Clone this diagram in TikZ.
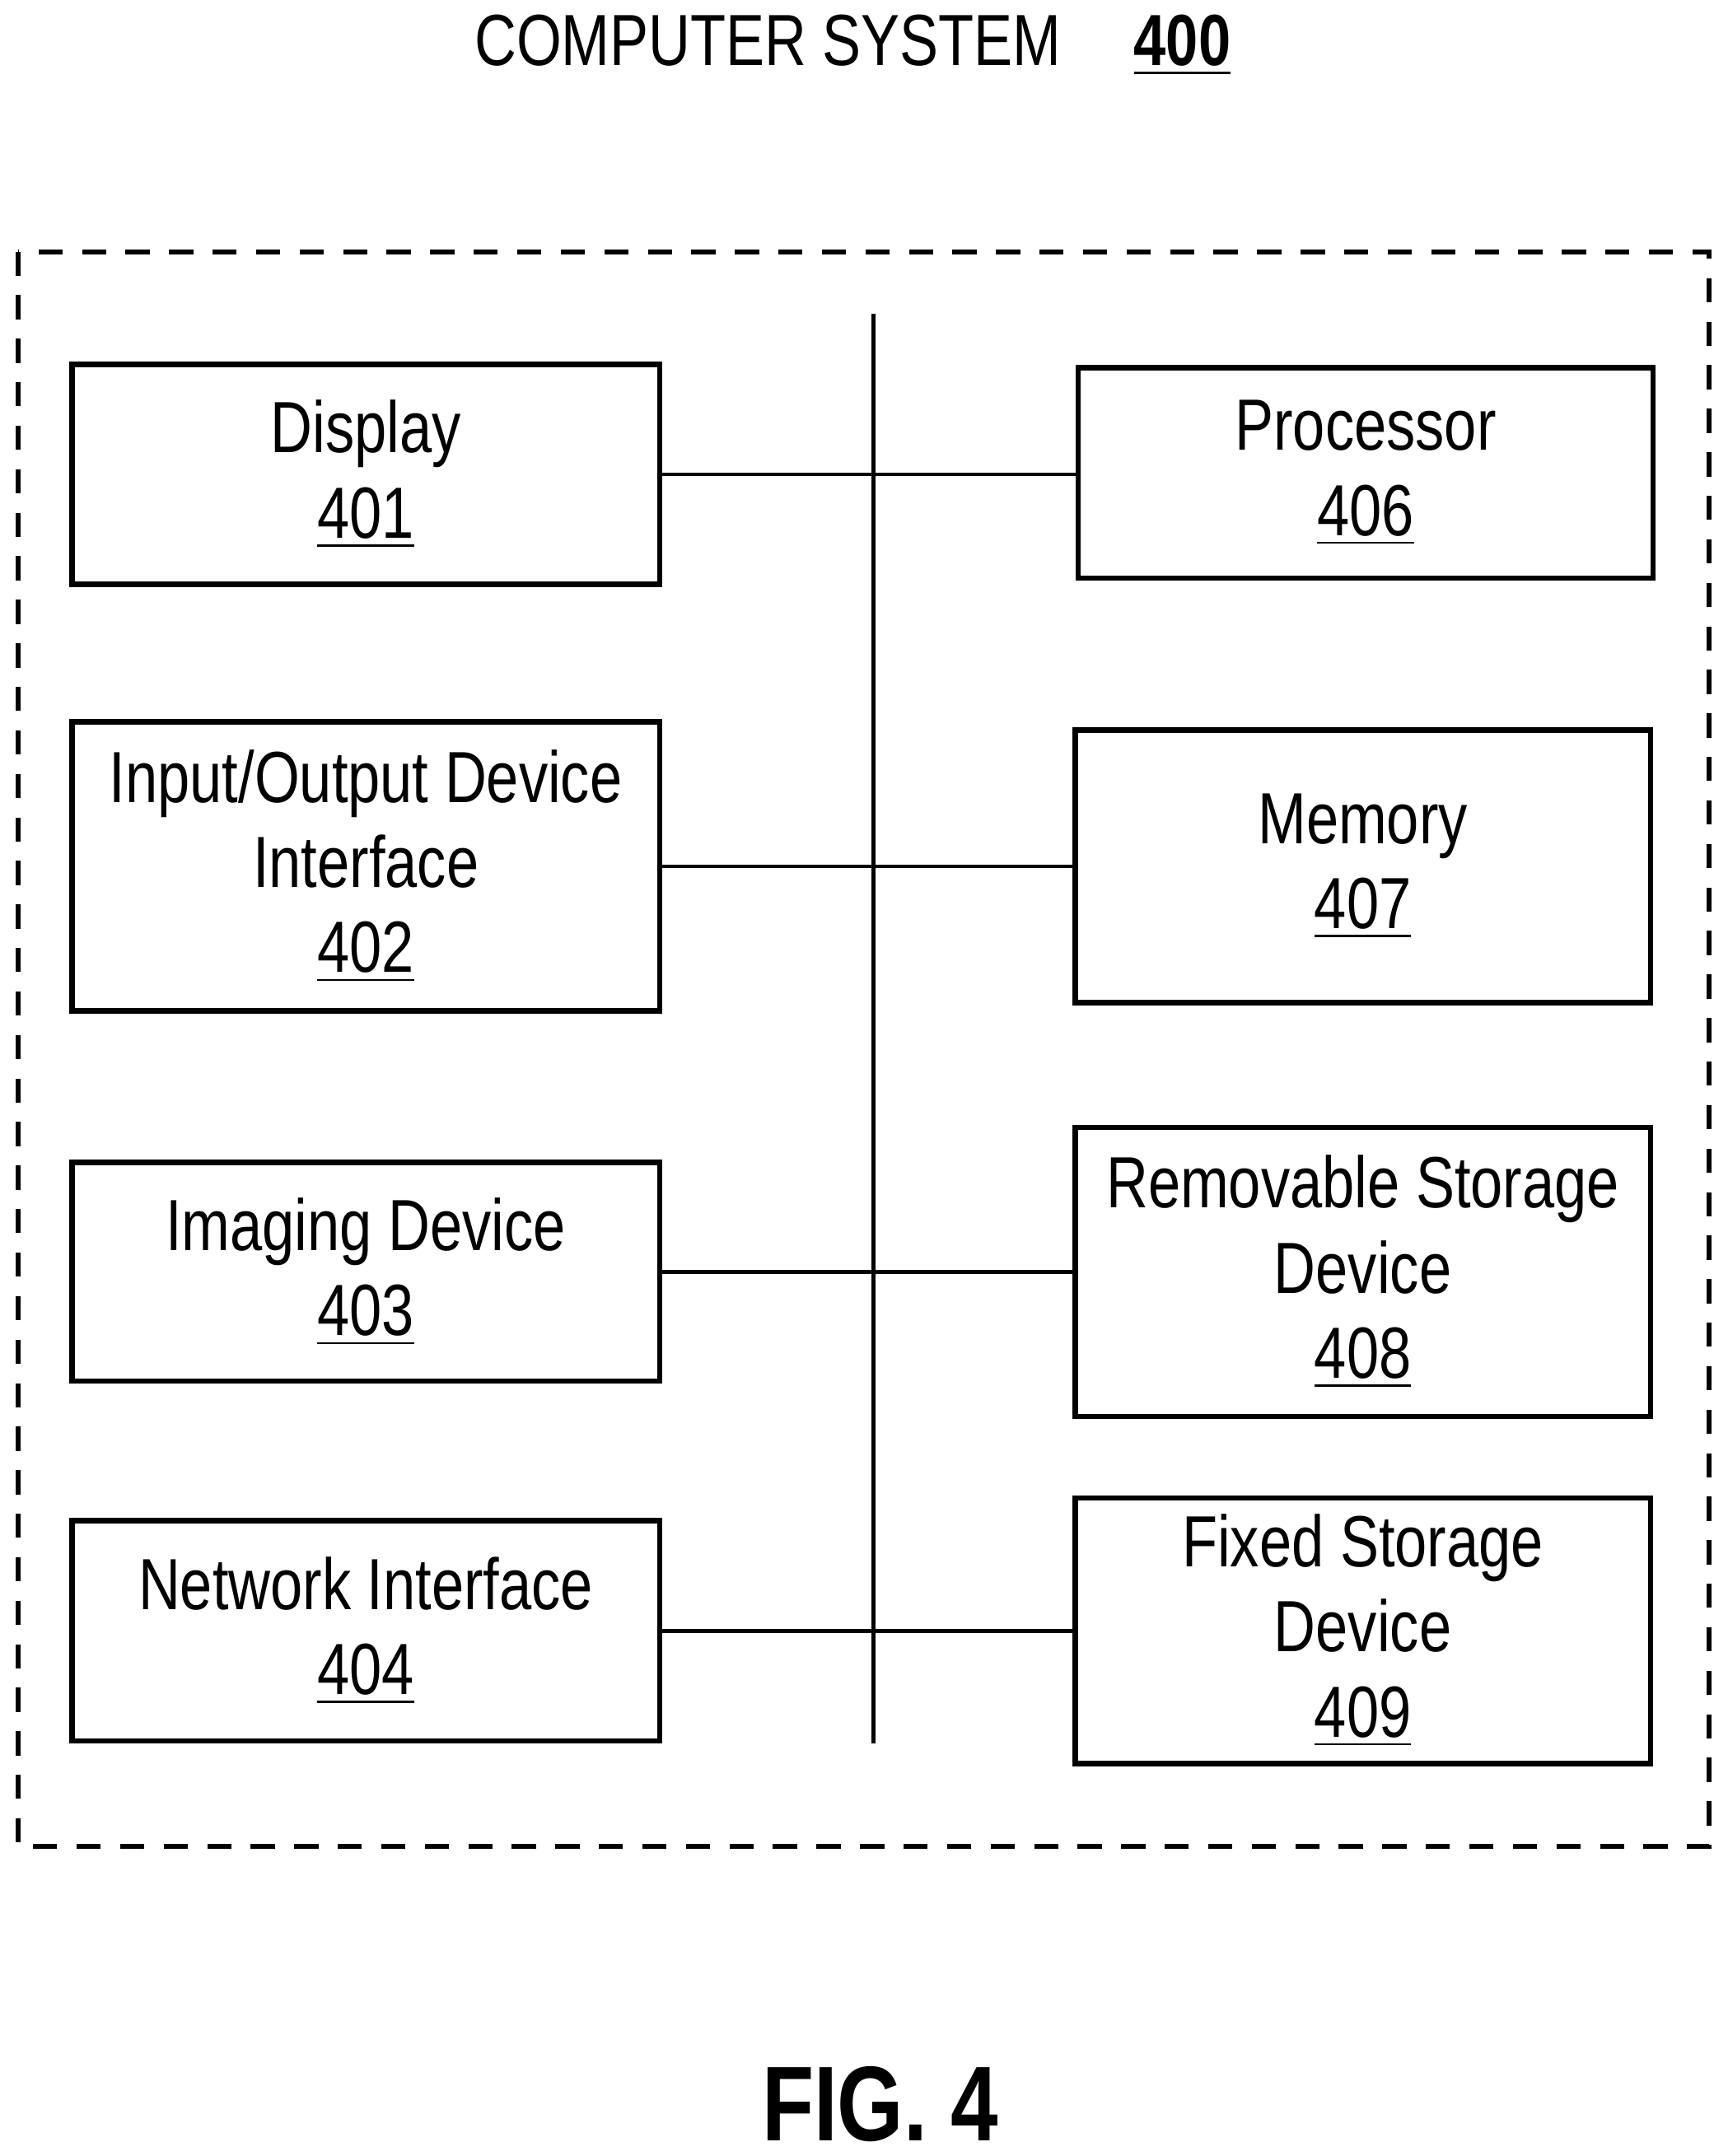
\documentclass[tikz,border=0pt]{standalone}
\usepackage{fontspec}
\setmainfont{Liberation Sans}[FakeStretch=0.8]
\begin{document}
\begin{tikzpicture}[x=0.01cm,y=-0.01cm,
	box/.style={draw,line width=1.1pt,align=center,font=\fontsize{15}{17.6}\selectfont,inner sep=0pt}]
	\useasboundingbox (0,0) rectangle (1256,1568);
	\node[font=\fontsize{15}{18}\selectfont] (title) at (620,33) {COMPUTER SYSTEM\quad\textbf{\underline{400}}};
	\draw[line width=1pt,dash pattern=on 5pt off 4pt] (13,183) rectangle (1243,1343);
	\coordinate (bt) at (635,228);
	\coordinate (bb) at (635,1268);
	\draw[line width=0.8pt] (bt) -- (bb);
	% left column
	\node[box,minimum width=4.27cm,minimum height=1.6cm] (disp) at (266,345) {Display\\\underline{401}};
	\node[box,minimum width=4.27cm,minimum height=2.1cm] (io) at (266,630) {Input/Output Device\\Interface\\\underline{402}};
	\node[box,minimum width=4.27cm,minimum height=1.59cm] (img) at (266,925) {Imaging Device\\\underline{403}};
	\node[box,minimum width=4.27cm,minimum height=1.6cm] (net) at (266,1186) {Network Interface\\\underline{404}};
	% right column
	\node[box,minimum width=4.18cm,minimum height=1.53cm] (proc) at (993,344) {Processor\\\underline{406}};
	\node[box,minimum width=4.18cm,minimum height=1.98cm] (mem) at (991,630) {Memory\\\underline{407}};
	\node[box,minimum width=4.18cm,minimum height=2.1cm] (rem) at (991,925) {Removable Storage\\Device\\\underline{408}};
	\node[box,minimum width=4.18cm,minimum height=1.93cm] (fix) at (991,1186) {Fixed Storage\\Device\\\underline{409}};
	\foreach \a/\b in {disp/proc,io/mem,img/rem,net/fix}
		\draw[line width=0.8pt] (\a.east) -- (\a.east -| \b.west);
	\node[font=\bfseries\fontsize{22}{24}\selectfont] (fig) at (640,1530) {FIG. 4};
\end{tikzpicture}
\end{document}
